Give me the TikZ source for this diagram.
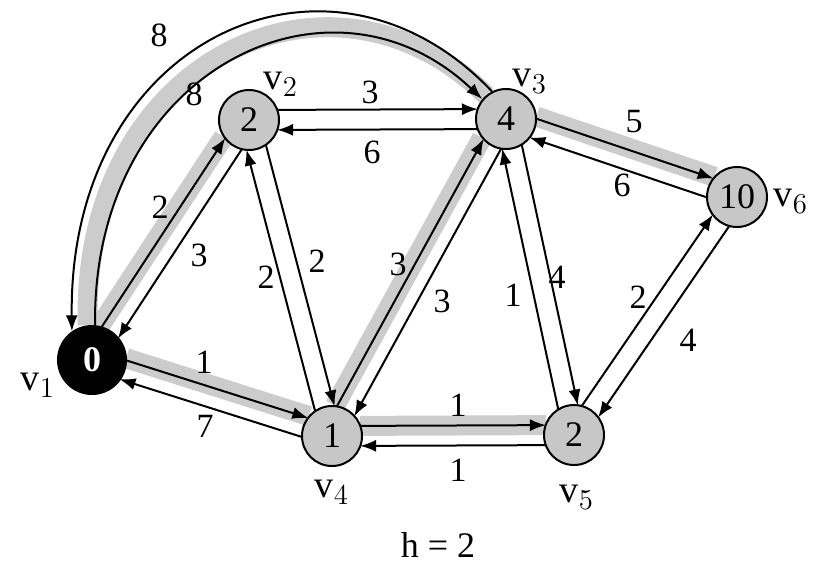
\documentclass[tikz,border=0pt]{standalone}
\usepackage{fontspec}
\setmainfont{Liberation Serif}
\usetikzlibrary{arrows.meta,calc,backgrounds}

\definecolor{vertexgray}{gray}{0.78}
\definecolor{treegray}{gray}{0.80}

\tikzset{
  vertex/.style={circle,draw=black,line width=1pt,fill=vertexgray,minimum size=30pt,inner sep=0pt,font=\fontsize{18}{18}\selectfont},
  source/.style={circle,draw=black,line width=2pt,fill=black,text=white,minimum size=33pt,inner sep=0pt,font=\bfseries\fontsize{18}{18}\selectfont},
  wline/.style={line width=1pt,-{Latex[length=8pt,width=6pt]},shorten <=14pt,shorten >=14pt},
  treeband/.style={draw=treegray,line width=10pt,shorten <=14pt,shorten >=14pt},
  weight/.style={inner sep=1pt,font=\fontsize{17}{17}\selectfont},
  vname/.style={inner sep=1pt,font=\fontsize{19}{19}\selectfont},
}

\begin{document}
\begin{tikzpicture}[x=0.5pt,y=-0.5pt]
  \useasboundingbox (0,0) rectangle (813,564);

  % vertices
  \node[source] (v1) at (92,360) {0};
  \node[vertex] (v2) at (249,120) {2};
  \node[vertex] (v3) at (506,119) {4};
  \node[vertex] (v4) at (332,436) {1};
  \node[vertex] (v5) at (574,435) {2};
  \node[vertex] (v6) at (737,197) {10};

  \node[vname] (n1) at (38,385) {v$_1$};
  \node[vname] (n2) at (281,84) {v$_2$};
  \node[vname] (n3) at (530,81) {v$_3$};
  \node[vname] (n4) at (332,492) {v$_4$};
  \node[vname] (n5) at (577,497) {v$_5$};
  \node[vname] (n6) at (791,201) {v$_6$};

  % shortest path tree
  \begin{pgfonlayer}{background}
    \draw[treeband,shorten <=0pt,shorten >=0pt] (v1.97) .. controls (80,60) and (330,-58) .. (v3.130);
    \draw[treeband,shorten <=16pt] ($(v1)!6pt!90:(v2)$) -- ($(v2)!6pt!-90:(v1)$);
    \draw[treeband,shorten <=16pt] ($(v1)!6pt!90:(v4)$) -- ($(v4)!6pt!-90:(v1)$);
    \draw[treeband] ($(v4)!6pt!90:(v3)$) -- ($(v3)!6pt!-90:(v4)$);
    \draw[treeband] ($(v4)!5pt!90:(v5)$) -- ($(v5)!5pt!-90:(v4)$);
    \draw[treeband] ($(v3)!6pt!90:(v6)$) -- ($(v6)!6pt!-90:(v3)$);
  \end{pgfonlayer}

  % arcs between v1 and v3
  \draw[wline,shorten <=0pt,shorten >=0pt] (v1.85) .. controls (92,70) and (330,-45) .. (v3.140);
  \draw[wline,shorten <=0pt,shorten >=0pt] (v3.117) .. controls (330,-80) and (68,37) .. (v1.125);
  \node[weight] (w13) at (194,94) {8};
  \node[weight] (w31) at (159,35) {8};

  % edge pairs
  \draw[wline,shorten <=16pt] ($(v1)!5pt!90:(v2)$) -- ($(v2)!5pt!-90:(v1)$);
  \draw[wline,shorten >=16pt] ($(v2)!5pt!90:(v1)$) -- ($(v1)!5pt!-90:(v2)$);
  \node[weight] (w12) at (160,207) {2};
  \node[weight] (w21) at (199,255) {3};

  \draw[wline] ($(v2)!5pt!90:(v3)$) -- ($(v3)!5pt!-90:(v2)$);
  \draw[wline] ($(v3)!5pt!90:(v2)$) -- ($(v2)!5pt!-90:(v3)$);
  \node[weight] (w23) at (370,92) {3};
  \node[weight] (w32) at (372,152) {6};

  \draw[wline] ($(v2)!5pt!90:(v4)$) -- ($(v4)!5pt!-90:(v2)$);
  \draw[wline] ($(v4)!5pt!90:(v2)$) -- ($(v2)!5pt!-90:(v4)$);
  \node[weight] (w24) at (317,261) {2};
  \node[weight] (w42) at (266,277) {2};

  \draw[wline] ($(v4)!5pt!90:(v3)$) -- ($(v3)!5pt!-90:(v4)$);
  \draw[wline] ($(v3)!5pt!90:(v4)$) -- ($(v4)!5pt!-90:(v3)$);
  \node[weight] (w43) at (398,264) {3};
  \node[weight] (w34) at (442,301) {3};

  \draw[wline,shorten <=16pt] ($(v1)!5pt!90:(v4)$) -- ($(v4)!5pt!-90:(v1)$);
  \draw[wline,shorten >=16pt] ($(v4)!5pt!90:(v1)$) -- ($(v1)!5pt!-90:(v4)$);
  \node[weight] (w14) at (204,362) {1};
  \node[weight] (w41) at (205,426) {7};

  \draw[wline] ($(v4)!5pt!90:(v5)$) -- ($(v5)!5pt!-90:(v4)$);
  \draw[wline] ($(v5)!5pt!90:(v4)$) -- ($(v4)!5pt!-90:(v5)$);
  \node[weight] (w45) at (458,405) {1};
  \node[weight] (w54) at (458,470) {1};

  \draw[wline] ($(v3)!5pt!90:(v5)$) -- ($(v5)!5pt!-90:(v3)$);
  \draw[wline] ($(v5)!5pt!90:(v3)$) -- ($(v3)!5pt!-90:(v5)$);
  \node[weight] (w35) at (557,277) {4};
  \node[weight] (w53) at (513,295) {1};

  \draw[wline] ($(v3)!5pt!90:(v6)$) -- ($(v6)!5pt!-90:(v3)$);
  \draw[wline] ($(v6)!5pt!90:(v3)$) -- ($(v3)!5pt!-90:(v6)$);
  \node[weight] (w36) at (634,122) {5};
  \node[weight] (w63) at (622,185) {6};

  \draw[wline] ($(v5)!5pt!90:(v6)$) -- ($(v6)!5pt!-90:(v5)$);
  \draw[wline] ($(v6)!5pt!90:(v5)$) -- ($(v5)!5pt!-90:(v6)$);
  \node[weight] (w56) at (638,297) {2};
  \node[weight] (w65) at (688,340) {4};

  \node[font=\fontsize{18}{18}\selectfont] (hop) at (438,545) {h = 2};
\end{tikzpicture}
\end{document}
